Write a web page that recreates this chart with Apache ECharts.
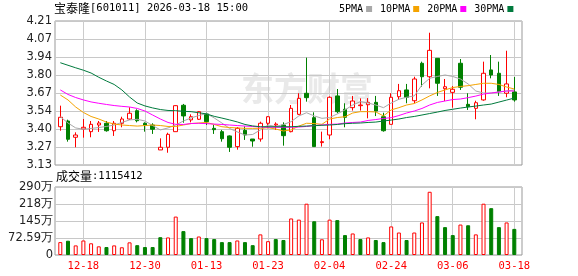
<!DOCTYPE html>
<html><head><meta charset="utf-8">
<script src="https://cdn.jsdelivr.net/npm/echarts@6/dist/echarts.min.js"></script>
<style>html,body{margin:0;padding:0;background:#fff}#c{width:578px;height:276px}</style>
</head><body><div id="c"></div>
<script>
const dates = ['12-15','12-16','12-17','12-18','12-19','12-22','12-23','12-24','12-25','12-26','12-29','12-30','12-31','01-05','01-06','01-07','01-08','01-09','01-12','01-13','01-14','01-15','01-16','01-19','01-20','01-21','01-22','01-23','01-26','01-27','01-28','01-29','01-30','02-02','02-03','02-04','02-05','02-06','02-09','02-10','02-11','02-12','02-13','02-24','02-25','02-26','02-27','03-02','03-03','03-04','03-05','03-06','03-09','03-10','03-11','03-12','03-13','03-16','03-17','03-18'];
const openP = [3.417,3.46,3.338,3.40,3.38,3.43,3.443,3.387,3.443,3.475,3.537,3.443,3.43,3.243,3.263,3.38,3.578,3.468,3.473,3.513,3.405,3.38,3.348,3.268,3.39,3.325,3.325,3.443,3.43,3.43,3.38,3.51,3.668,3.485,3.298,3.355,3.648,3.548,3.56,3.575,3.582,3.60,3.492,3.435,3.642,3.693,3.612,3.893,3.792,3.93,3.702,3.675,3.893,3.585,3.555,3.618,3.843,3.818,3.668,3.678];
const closeP = [3.488,3.323,3.355,3.413,3.435,3.445,3.387,3.443,3.475,3.518,3.462,3.43,3.398,3.263,3.36,3.575,3.498,3.492,3.53,3.455,3.395,3.327,3.263,3.405,3.355,3.31,3.443,3.492,3.437,3.35,3.555,3.63,3.635,3.268,3.305,3.638,3.53,3.488,3.61,3.58,3.60,3.535,3.387,3.638,3.687,3.638,3.775,3.792,3.99,3.743,3.717,3.698,3.713,3.567,3.597,3.818,3.805,3.68,3.738,3.618];
const lowP = [3.387,3.305,3.263,3.335,3.338,3.378,3.38,3.348,3.413,3.468,3.45,3.38,3.363,3.243,3.222,3.38,3.447,3.45,3.468,3.43,3.363,3.305,3.228,3.245,3.318,3.267,3.305,3.405,3.393,3.275,3.375,3.505,3.605,3.268,3.268,3.323,3.518,3.413,3.538,3.538,3.48,3.497,3.38,3.435,3.618,3.593,3.593,3.717,3.705,3.648,3.61,3.56,3.693,3.543,3.473,3.612,3.78,3.648,3.638,3.605];
const highP = [3.575,3.47,3.375,3.475,3.46,3.46,3.46,3.46,3.492,3.563,3.548,3.45,3.443,3.33,3.372,3.578,3.588,3.51,3.535,3.522,3.43,3.393,3.352,3.415,3.42,3.325,3.455,3.497,3.45,3.45,3.58,3.668,3.935,3.525,3.38,3.645,3.70,3.593,3.648,3.63,3.632,3.648,3.522,3.668,3.738,3.738,3.792,3.905,4.122,3.93,3.775,3.722,3.925,3.668,3.612,3.905,3.955,3.905,3.987,3.79];
const volume = [550000,610000,410000,620000,500000,370000,340000,410000,330000,540000,420000,340000,340000,760000,750000,1640000,1020000,720000,790000,720000,680000,550000,550000,620000,550000,420000,880000,590000,680000,640000,1560000,1510000,2190000,1440000,670000,1510000,1490000,850000,920000,680000,750000,640000,550000,1220000,960000,640000,960000,1390000,2700000,1660000,1190000,850000,1300000,1270000,880000,2190000,2000000,1190000,1390000,1115412];
const ma5 = [3.492,3.445,3.408,3.398,3.404,3.411,3.419,3.43,3.449,3.468,3.473,3.46,3.426,3.393,3.408,3.43,3.46,3.483,3.501,3.516,3.483,3.445,3.404,3.378,3.355,3.359,3.393,3.43,3.419,3.434,3.455,3.498,3.522,3.498,3.48,3.486,3.513,3.543,3.58,3.605,3.595,3.58,3.56,3.595,3.623,3.638,3.648,3.73,3.78,3.794,3.805,3.794,3.775,3.738,3.685,3.67,3.67,3.678,3.685,3.693];
const ma10 = [3.655,3.618,3.565,3.524,3.494,3.475,3.452,3.437,3.43,3.426,3.422,3.426,3.43,3.426,3.419,3.419,3.43,3.441,3.445,3.449,3.434,3.417,3.411,3.408,3.405,3.405,3.405,3.41,3.40,3.385,3.393,3.422,3.443,3.441,3.435,3.475,3.486,3.492,3.52,3.53,3.53,3.528,3.498,3.543,3.56,3.58,3.591,3.618,3.648,3.674,3.693,3.711,3.719,3.725,3.734,3.743,3.743,3.734,3.715,3.70];
const ma20 = [3.693,3.659,3.636,3.618,3.603,3.593,3.584,3.576,3.57,3.565,3.554,3.535,3.505,3.475,3.449,3.435,3.434,3.441,3.443,3.44,3.437,3.434,3.43,3.426,3.422,3.419,3.415,3.413,3.413,3.413,3.413,3.415,3.419,3.426,3.43,3.435,3.437,3.445,3.449,3.452,3.464,3.471,3.479,3.485,3.501,3.52,3.535,3.554,3.58,3.599,3.61,3.621,3.625,3.635,3.647,3.662,3.67,3.677,3.685,3.685];
const ma30 = [3.897,3.878,3.859,3.841,3.82,3.788,3.76,3.734,3.693,3.64,3.595,3.573,3.558,3.546,3.539,3.537,3.533,3.53,3.522,3.513,3.495,3.482,3.468,3.453,3.434,3.423,3.417,3.417,3.417,3.417,3.417,3.42,3.422,3.425,3.428,3.43,3.434,3.44,3.443,3.445,3.449,3.452,3.46,3.467,3.475,3.486,3.494,3.505,3.516,3.527,3.539,3.548,3.557,3.565,3.572,3.58,3.587,3.602,3.617,3.632];
const priceTicks = ['3.13','3.27','3.40','3.54','3.67','3.80','3.94','4.07','4.21'];
const volTicks = ['0','72.59万','145万','218万','290万'];
const maNames = ['5PMA','10PMA','20PMA','30PMA'];

const UP = '#ff0000', DOWN = '#008000', GRIDC = '#c8c8c8', FRAME = '#999999';
const maColors = ['#a8a8a8', '#f4a300', '#ff00ff', '#007a3d'];
const LABEL_FIRST = 3, LABEL_STEP = 8;
const labelIdx = (i) => i % LABEL_STEP === LABEL_FIRST;
const numFont = 'DejaVu Sans';
const monoFont = 'DejaVu Sans Mono';
const cjkFont = 'Noto Sans CJK SC';

const chart = echarts.init(document.getElementById('c'), null, {renderer: 'canvas'});
const candleData = dates.map((d, i) => [openP[i], closeP[i], lowP[i], highP[i]]);
const volData = volume.map((v, i) => {
  const up = i === 0 ? closeP[i] >= openP[i] : closeP[i] >= closeP[i - 1];
  return {value: v, itemStyle: up ? {color: '#ffffff', borderColor: UP, borderWidth: 1} : {color: DOWN, borderColor: DOWN, borderWidth: 1}};
});

// layout
const FL = 55, FW = 467;
const DL = 56.45, DW = 461.7;
const band = DW / dates.length;
const VL = DL + (LABEL_FIRST + 0.5) * band;
const VMAX = Math.round((FL + FW - VL) / band);
const VW = VMAX * band;

const richTitle = {
  a: {fontFamily: cjkFont, fontSize: 12, fontWeight: 'normal', color: '#000'},
  b: {fontFamily: monoFont, fontSize: 10.5, fontWeight: 'normal', color: '#000'}
};
const dashAxis = (g) => ({gridIndex: g, type: 'value', min: 0, max: VMAX, interval: LABEL_STEP, show: true,
  axisLine: {show: false}, axisTick: {show: false}, axisLabel: {show: false},
  splitLine: {show: true, lineStyle: {color: '#cccccc', type: 'solid', width: 1}}});
const hiddenY = (g) => ({gridIndex: g, type: 'value', min: 0, max: 1, show: false});

chart.setOption({
  animation: false,
  backgroundColor: '#ffffff',
  title: [
    {text: '{a|宝泰隆}{b|[601011] 2026-03-18 15:00}', left: 54, top: 2, padding: 0,
     textStyle: {fontWeight: 'normal', rich: richTitle}},
    {text: '{a|成交量}{b|:1115412}', left: 56, top: 170, padding: 0,
     textStyle: {fontWeight: 'normal', rich: richTitle}}
  ],
  legend: {
    data: maNames, left: 339, top: 4, padding: 0, align: 'right', icon: 'rect',
    itemWidth: 6, itemHeight: 6, itemGap: 8,
    textStyle: {fontFamily: monoFont, fontSize: 10, color: '#000', padding: [0, -2, 0, 0]}
  },
  graphic: [
    {type: 'text', left: 241, top: 72, z: 0, silent: true,
     style: {text: '东方财富', fill: '#e9e9e9', font: 'bold 33px "Noto Sans CJK SC"'}}
  ],
  grid: [
    {left: FL, top: 21, width: FW, height: 144, show: true, borderColor: FRAME, borderWidth: 1, backgroundColor: 'transparent'},
    {left: DL, top: 21, width: DW, height: 144},
    {left: FL, top: 187, width: FW, height: 68, show: true, borderColor: FRAME, borderWidth: 1, backgroundColor: 'transparent'},
    {left: DL, top: 187, width: DW, height: 68},
    {left: VL, top: 21, width: VW, height: 144},
    {left: VL, top: 187, width: VW, height: 68}
  ],
  xAxis: [
    {gridIndex: 0, type: 'value', min: 0, max: 1, show: false},
    {gridIndex: 1, type: 'category', data: dates, boundaryGap: true,
     axisLine: {show: false}, axisLabel: {show: false}, splitLine: {show: false}, axisTick: {show: false}},
    {gridIndex: 2, type: 'value', min: 0, max: 1, show: false},
    {gridIndex: 3, type: 'category', data: dates, boundaryGap: true,
     axisLine: {show: false}, splitLine: {show: false}, axisTick: {show: false},
     axisLabel: {show: true, interval: (i) => labelIdx(i), color: UP, fontFamily: monoFont, fontSize: 10.5, margin: 6}},
    dashAxis(4),
    dashAxis(5)
  ],
  yAxis: [
    {gridIndex: 0, type: 'value', min: 0, max: 8, interval: 1,
     axisLine: {show: false}, axisTick: {show: false},
     splitLine: {show: true, lineStyle: {color: GRIDC, width: 1}},
     axisLabel: {formatter: (v) => priceTicks[Math.round(v)], showMinLabel: true, showMaxLabel: true,
       fontFamily: numFont, fontSize: 11.5, color: '#222', margin: 3}},
    {gridIndex: 1, type: 'value', min: 3.13, max: 4.21, show: false, scale: true},
    {gridIndex: 2, type: 'value', min: 0, max: 4, interval: 1,
     axisLine: {show: false}, axisTick: {show: false},
     splitLine: {show: true, lineStyle: {color: GRIDC, width: 1}},
     axisLabel: {formatter: (v) => volTicks[Math.round(v)], showMinLabel: true, showMaxLabel: true,
       fontFamily: numFont, fontSize: 11.5, color: '#222', margin: 2}},
    {gridIndex: 3, type: 'value', min: 0, max: 2903500, show: false},
    hiddenY(4),
    hiddenY(5)
  ],
  series: [
    {type: 'candlestick', xAxisIndex: 1, yAxisIndex: 1, data: candleData, barWidth: 4,
     itemStyle: {color: '#ffffff', color0: DOWN, borderColor: UP, borderColor0: DOWN, borderWidth: 1}},
    ...[ma5, ma10, ma20, ma30].map((d, k) => ({
      name: maNames[k], type: 'line', xAxisIndex: 1, yAxisIndex: 1, data: d,
      symbol: 'none', smooth: false, color: maColors[k],
      lineStyle: {width: 1, color: maColors[k]}, z: 3
    })),
    {type: 'bar', xAxisIndex: 3, yAxisIndex: 3, data: volData, barWidth: 4}
  ]
});
</script></body></html>
